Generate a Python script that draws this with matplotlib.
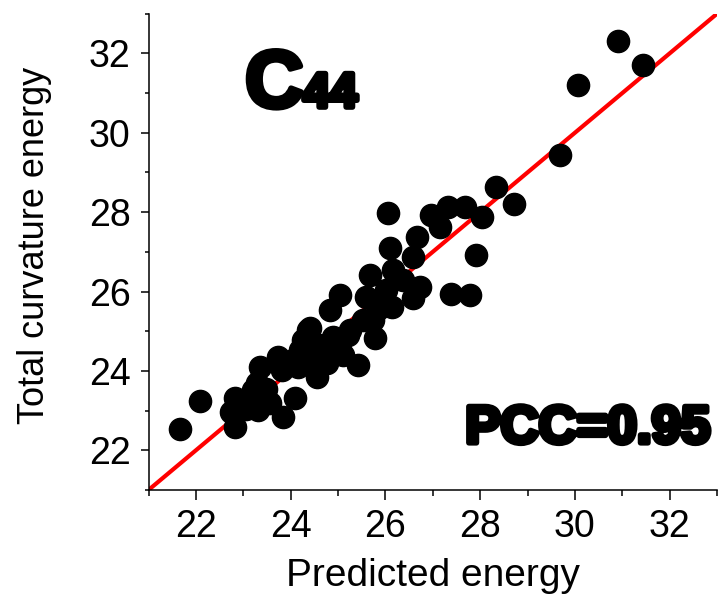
import numpy as np
import matplotlib.pyplot as plt
import matplotlib.patheffects as pe
from matplotlib.ticker import MultipleLocator

# data
predicted = [21.66, 22.08, 22.82, 22.75, 22.82, 23.05, 23.31, 23.28, 23.35, 23.56,
             23.48, 23.84, 24.09, 23.74, 23.81, 23.21, 23.40, 24.16, 24.19, 24.37,
             24.47, 24.55, 24.76, 24.83, 25.04, 24.90, 25.04, 25.42, 24.26, 24.05,
             24.55, 24.69, 24.41, 24.30, 24.60, 25.25, 25.53, 25.74, 25.78, 25.60,
             25.67, 25.95, 26.02, 26.13, 26.23, 26.37, 26.16, 26.58, 26.72, 26.06,
             26.09, 26.58, 26.66, 26.97, 27.15, 27.32, 27.68, 28.03, 27.92, 27.39,
             27.78, 28.34, 28.72, 29.69, 30.06, 30.90, 31.44, 25.10, 25.20, 25.85]
total = [22.53, 23.25, 23.31, 22.97, 22.59, 23.05, 23.02, 23.69, 24.11, 23.18,
         23.55, 22.85, 23.31, 24.36, 24.02, 23.52, 23.35, 24.11, 24.53, 25.03,
         24.44, 23.85, 24.19, 25.53, 25.91, 24.86, 24.70, 24.15, 24.78, 24.27,
         24.11, 24.44, 25.07, 24.40, 24.65, 25.03, 25.28, 25.28, 24.82, 25.87,
         26.42, 25.87, 26.04, 25.62, 26.37, 26.29, 26.54, 25.83, 26.12, 27.97,
         27.09, 26.88, 27.38, 27.93, 27.63, 28.14, 28.14, 27.88, 26.92, 25.95,
         25.91, 28.64, 28.20, 29.43, 31.21, 32.31, 31.71, 24.40, 24.90, 25.55]
line_ends = [21, 33]
major_ticks = [22, 24, 26, 28, 30, 32]

plt.rcParams['font.family'] = ['Liberation Sans', 'DejaVu Sans']

fig = plt.figure(figsize=(7.21, 5.95), dpi=100)
ax = fig.add_axes([0.206, 0.1765, 0.7885, 0.8005])

ax.plot(line_ends, line_ends, color='#ff0000', lw=3, zorder=2, solid_capstyle='butt')
ax.plot(predicted, total, 'o', color='black', ms=16, zorder=3)

ax.set_xlim(21, 33)
ax.set_ylim(21, 33)
ax.set_xticks(major_ticks)
ax.set_yticks(major_ticks)
ax.xaxis.set_minor_locator(MultipleLocator(1))
ax.yaxis.set_minor_locator(MultipleLocator(1))

for s in ['top', 'right']:
    ax.spines[s].set_visible(False)
for s in ['left', 'bottom']:
    ax.spines[s].set_linewidth(1.1)

ax.tick_params(axis='x', which='major', length=7.5, width=1.1, pad=6.5, labelsize=27)
ax.tick_params(axis='x', which='minor', length=4, width=1.1)
ax.tick_params(axis='y', which='major', length=5.5, width=1.1, pad=7.5, labelsize=27)
ax.tick_params(axis='y', which='minor', length=3, width=1.1)

# axis titles
fig.text(433.5 / 721, 1 - 586 / 595, 'Predicted energy', fontsize=28,
         ha='center', va='baseline')
fig.text(34.5 / 721, 1 - 245 / 595, 'Total curvature energy', fontsize=26,
         ha='center', va='center', rotation=90)

# heavy annotations
heavy = [pe.withStroke(linewidth=4, foreground='black')]
ax.text(0.17, 0.804, 'C', transform=ax.transAxes, fontsize=58, fontweight='bold',
        ha='left', va='baseline', path_effects=heavy)
ax.text(0.272, 0.804, '44', transform=ax.transAxes, fontsize=35, fontweight='bold',
        ha='left', va='baseline', path_effects=heavy)
ax.text(0.988, 0.099, 'PCC=0.95', transform=ax.transAxes, fontsize=38,
        fontweight='bold', ha='right', va='baseline', path_effects=heavy)

fig.savefig('out.png', dpi=100)
